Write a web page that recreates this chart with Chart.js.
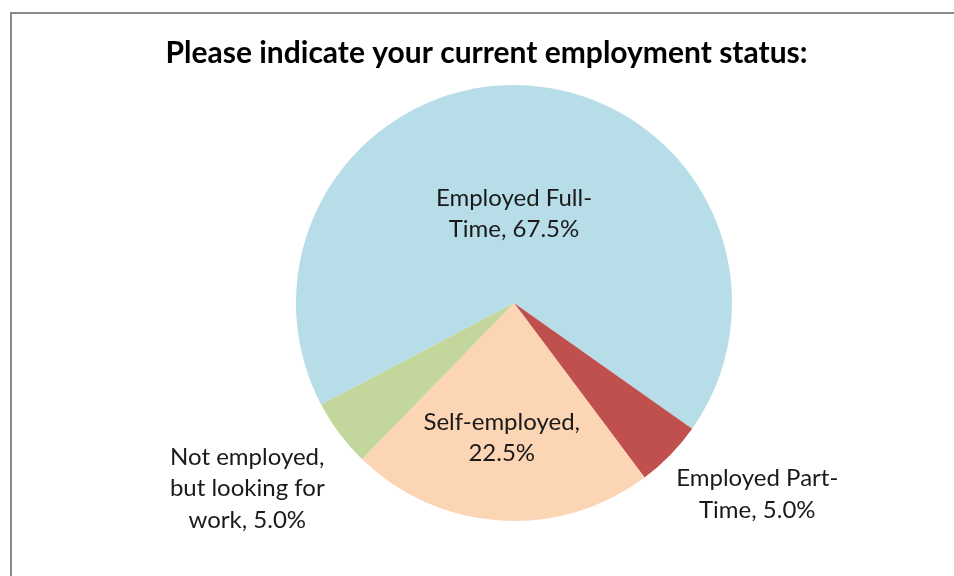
<!DOCTYPE html>
<html>
<head>
<meta charset="utf-8">
<script src="https://cdn.jsdelivr.net/npm/chart.js@4/dist/chart.umd.min.js"></script>
<style>
  html, body { margin: 0; padding: 0; background: #fff; }
  canvas { display: block; }
</style>
</head>
<body>
<canvas id="camembert" width="954" height="576"></canvas>
<script>
const title = 'Please indicate your current employment status:';
const categories = [
    ['Employed Full-', 'Time, 67.5%'],
    ['Employed Part-', 'Time, 5.0%'],
    ['Self-employed,', '22.5%'],
    ['Not employed,', 'but looking for', 'work, 5.0%']
];
const values = [67.5, 5.0, 22.5, 5.0];
const colors = ['#B7DDE8', '#C0504D', '#FCD5B5', '#C3D69B'];

// where each label sits: fraction of the radius, plus a small angle shift (deg)
const labelRadius = [0.41, 1.42, 0.62, 1.49];
const labelShift = [-3.7, -6, 1.5, 2];

const font = 'Lato, "Open Sans", sans-serif';

const frame = {
    id: 'frame',
    beforeDraw(chart) {
        const c = chart.ctx;
        c.save();
        c.strokeStyle = '#8a8a8a';
        c.lineWidth = 2;
        c.beginPath();
        c.moveTo(11, 576);
        c.lineTo(11, 13);
        c.lineTo(954, 13);
        c.stroke();
        // title is centred on the whole frame, not on the pie
        c.font = 'bold 30px ' + font;
        c.fillStyle = '#000';
        c.textAlign = 'center';
        c.textBaseline = 'middle';
        c.fillText(title, 486.5, 53);
        c.restore();
    }
};

const sliceLabels = {
    id: 'sliceLabels',
    afterDatasetsDraw(chart) {
        const c = chart.ctx;
        const arcs = chart.getDatasetMeta(0).data;
        c.save();
        c.font = '24px ' + font;
        c.fillStyle = '#1a1a1a';
        c.textAlign = 'center';
        c.textBaseline = 'middle';
        arcs.forEach((arc, i) => {
            const mid = (arc.startAngle + arc.endAngle) / 2 + labelShift[i] * Math.PI / 180;
            const r = arc.outerRadius * labelRadius[i];
            const x = arc.x + Math.cos(mid) * r;
            const y = arc.y + Math.sin(mid) * r;
            const lines = categories[i];
            const lh = 31.5;
            lines.forEach((t, k) => {
                c.fillText(t, x, y + (k - (lines.length - 1) / 2) * lh);
            });
        });
        c.restore();
    }
};

new Chart(document.getElementById('camembert'), {
    type: 'pie',
    data: {
        labels: categories.map(l => l.join(' ')),
        datasets: [{
            data: values,
            backgroundColor: colors,
            borderWidth: 0
        }]
    },
    options: {
        responsive: false,
        animation: false,
        rotation: 242.2,
        layout: {
            padding: { top: 85, bottom: 55, left: 114, right: 40 }
        },
        plugins: {
            legend: { display: false },
            tooltip: { enabled: false },
            title: { display: false }
        }
    },
    plugins: [frame, sliceLabels]
});
</script>
</body>
</html>
